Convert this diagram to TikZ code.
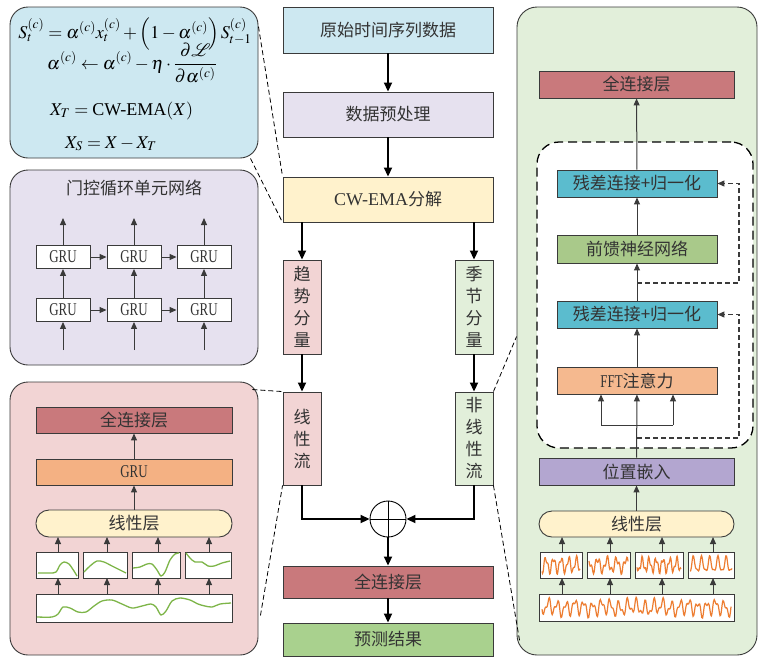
\documentclass[tikz,border=0pt]{standalone}
\usepackage{mathptmx}
\usepackage{fontspec}
\setmainfont{Liberation Serif}
\newfontfamily\cjk{Noto Sans CJK SC}
\newfontfamily\narrow[FakeStretch=0.72]{Liberation Serif}
\usetikzlibrary{arrows.meta,calc}
\definecolor{cBlue}{HTML}{CDE8F1}
\definecolor{cLav}{HTML}{E6E1EF}
\definecolor{cYel}{HTML}{FFF2CC}
\definecolor{cPink}{HTML}{F2D4D4}
\definecolor{cGrnL}{HTML}{E2EFDA}
\definecolor{cRed}{HTML}{C9797C}
\definecolor{cGrn}{HTML}{A9D18E}
\definecolor{cOrg}{HTML}{F4B183}
\definecolor{cTeal}{HTML}{5BBCCE}
\definecolor{cFF}{HTML}{A9C98A}
\definecolor{cPur}{HTML}{B3A6D0}
\definecolor{cLine}{HTML}{3A3A3A}
\definecolor{cWaveG}{HTML}{7DB548}
\definecolor{cWaveO}{HTML}{ED7D31}
\definecolor{cTxt}{HTML}{333333}
\tikzset{
  box/.style={draw=cLine, line width=0.9pt, inner sep=0pt, text=cTxt, font=\cjk\fontsize{17}{20}\selectfont},
  vbox/.style={box, align=center, font=\cjk\fontsize{17}{22}\selectfont},
  rbox/.style={box, rounded corners=13pt},
  gru/.style={box, fill=white, minimum width=54pt, minimum height=23pt, font=\narrow\fontsize{18}{20}\selectfont},
  wbox/.style={draw=cLine, line width=0.9pt, fill=white, inner sep=0pt},
  panel/.style={draw=cLine, line width=0.9pt, rounded corners=18pt, inner sep=0pt},
  bigarrow/.style={line width=1.8pt, draw=black, -{Triangle[length=9pt,width=8pt]}},
  smallarrow/.style={line width=1pt, draw=cLine, -{Triangle[length=7pt,width=6pt]}},
  zoomline/.style={line width=0.8pt, dash pattern=on 5pt off 3pt},
  fbline/.style={line width=1.1pt, draw=cLine, dash pattern=on 5pt off 3pt, -{Triangle[length=7pt,width=6pt]}},
  eq/.style={inner sep=0pt, font=\fontsize{18}{21}\selectfont},
}
\begin{document}
\begin{tikzpicture}[x=1pt,y=-1pt]
\useasboundingbox (0,0) rectangle (759,657);

% ---------- panels ----------
\node[panel, fill=cBlue, minimum width=248pt, minimum height=151pt] (eqp) at (134,82.5) {};
\node[panel, fill=cLav, minimum width=248pt, minimum height=195pt] (grup) at (134,267.5) {};
\node[panel, fill=cPink, minimum width=248pt, minimum height=273pt] (pinkp) at (134,518.5) {};
\node[panel, fill=cGrnL, rounded corners=20pt, minimum width=240pt, minimum height=648pt] (greenp) at (637,331) {};
\node[draw=black, fill=white, line width=1.3pt, dash pattern=on 9pt off 5pt, rounded corners=22pt, minimum width=216pt, minimum height=306pt, inner sep=0pt] (tfb) at (645,295) {};

% ---------- equations ----------
\node[eq, anchor=base] (e1) at (135,38) {$S_t^{(c)} = \alpha^{(c)} x_t^{(c)} + \left(1-\alpha^{(c)}\right) S_{t-1}^{(c)}$};
\node[eq, anchor=base] (e2) at (132,69) {$\displaystyle \alpha^{(c)} \leftarrow \alpha^{(c)} - \eta\cdot\frac{\partial\mathcal{L}}{\partial\alpha^{(c)}}$};
\node[eq, anchor=base west] (e3) at (50,115) {$X_T = \mbox{CW-EMA}(X)$};
\node[eq, anchor=base west] (e4) at (65,148) {$X_S = X - X_T$};

% ---------- GRU panel ----------
\node[text=cTxt, font=\cjk\fontsize{17}{20}\selectfont, inner sep=0pt] (gtitle) at (134,188) {门控循环单元网络};
\foreach \i/\x in {1/63,2/134,3/204}{
  \node[gru] (ga\i) at (\x,257) {GRU};
  \node[gru] (gb\i) at (\x,310) {GRU};
  \coordinate (gin\i) at (\x,350);
  \coordinate (gout\i) at (\x,218);
  \draw[smallarrow] (gin\i) -- (gb\i);
  \draw[smallarrow] (gb\i) -- (ga\i);
  \draw[smallarrow] (ga\i) -- (gout\i);
}
\draw[smallarrow] (ga1) -- (ga2);
\draw[smallarrow] (ga2) -- (ga3);
\draw[smallarrow] (gb1) -- (gb2);
\draw[smallarrow] (gb2) -- (gb3);

% ---------- pink panel (linear stream) ----------
\node[box, fill=cRed, minimum width=196pt, minimum height=26pt] (fcL) at (134,420) {全连接层};
\node[box, fill=cOrg, minimum width=196pt, minimum height=26pt, font=\narrow\fontsize{18}{20}\selectfont] (gruL) at (134,472) {GRU};
\node[rbox, fill=cYel, minimum width=196pt, minimum height=27pt] (linL) at (134,523.5) {线性层};
\node[wbox, minimum width=42pt, minimum height=26pt] (sL1) at (57.5,565) {};
\node[wbox, minimum width=44pt, minimum height=26pt] (sL2) at (105,565) {};
\node[wbox, minimum width=48pt, minimum height=26pt] (sL3) at (156,565) {};
\node[wbox, minimum width=46pt, minimum height=26pt] (sL4) at (208,565) {};
\node[wbox, minimum width=196pt, minimum height=28pt] (wL) at (134,608) {};
\draw[cWaveG, line width=1.3pt] plot[smooth] coordinates {(37,617)(52,617)(58,614)(63,607)(70,608)(78,612)(86,612)(94,606)(102,601)(112,600)(122,604)(132,608)(142,606)(151,604)(156,607)(161,615)(166,611)(172,601)(180,598)(190,600)(198,604)(205,606)(212,607)(220,604)(231,603)};
\draw[cWaveG, line width=1.3pt] plot[smooth] coordinates {(38,573)(50,573)(56,572)(60,565)(64,562)(69,564)(74,571)(77,576)};
\draw[cWaveG, line width=1.3pt] plot[smooth] coordinates {(84,572)(90,566)(97,561)(104,562)(112,566)(120,570)(126,573)};
\draw[cWaveG, line width=1.3pt] plot[smooth] coordinates {(133,568)(140,567)(147,564)(152,564)(157,570)(161,576)(165,572)(170,560)(175,554)(179,553)};
\draw[cWaveG, line width=1.3pt] plot[smooth] coordinates {(186,553)(190,558)(195,562)(202,562)(208,566)(214,566)(222,563)(230,561)};
\foreach \i/\x in {1/58,2/107,3/158,4/209}{
  \coordinate (wLt\i) at (\x,594);
  \coordinate (sLt\i) at (\x,552);
  \draw[smallarrow] (wLt\i) -- (\x,578);
  \draw[smallarrow] (sLt\i) -- (\x,537);
}
\draw[smallarrow] (linL) -- (gruL);
\draw[smallarrow] (gruL) -- (fcL);

% ---------- right panel (nonlinear stream) ----------
\node[box, fill=cRed, minimum width=195pt, minimum height=27pt] (fcR) at (636.5,84.5) {全连接层};
\node[box, fill=cTeal, minimum width=160pt, minimum height=27pt] (res1) at (637,183.5) {残差连接+归一化};
\node[box, fill=cFF, minimum width=160pt, minimum height=28pt] (ff) at (637,249) {前馈神经网络};
\node[box, fill=cTeal, minimum width=160pt, minimum height=27pt] (res2) at (637,314.5) {残差连接+归一化};
\node[box, fill=cOrg!90!white, minimum width=160pt, minimum height=27pt] (fft) at (637,380.5) {{\rmfamily\narrow\fontsize{18}{20}\selectfont FFT}注意力};
\node[box, fill=cPur, minimum width=195pt, minimum height=27pt] (pos) at (636.5,471.5) {位置嵌入};
\node[rbox, fill=cYel, minimum width=195pt, minimum height=26pt] (linR) at (636.5,524) {线性层};
\node[wbox, minimum width=42pt, minimum height=26pt] (sR1) at (561,565) {};
\node[wbox, minimum width=43pt, minimum height=26pt] (sR2) at (608.5,565) {};
\node[wbox, minimum width=48pt, minimum height=26pt] (sR3) at (659,565) {};
\node[wbox, minimum width=46pt, minimum height=26pt] (sR4) at (711,565) {};
\node[wbox, minimum width=195pt, minimum height=27pt] (wR) at (636.5,607.5) {};
\begin{scope}[cWaveO, line width=1.2pt]
  \draw plot[domain=0:189, samples=260, smooth] ({542+\x}, {607.5 + 6*sin(41*\x) + 3.5*sin(79*\x+30) - 1.5*sin(13*\x)});
  \draw plot[domain=0:38, samples=70, smooth] ({542+\x}, {565 + 6.5*sin(47*\x+90) + 3*sin(101*\x)});
  \draw plot[domain=0:39, samples=70, smooth] ({589+\x}, {565 + 6*sin(38*\x-60) + 3.5*sin(91*\x+20)});
  \draw plot[domain=0:44, samples=80, smooth] ({637+\x}, {565 + 6*sin(52*\x) + 3*sin(113*\x+50)});
  \draw plot[domain=0:42, samples=70, smooth] ({690+\x}, {565 + 7*sin(44*\x+120) + 2.5*sin(87*\x)});
\end{scope}
\foreach \i/\x in {1/562,2/610,3/662,4/713}{
  \coordinate (wRt\i) at (\x,594);
  \coordinate (sRt\i) at (\x,552);
  \draw[smallarrow] (wRt\i) -- (\x,578);
  \draw[smallarrow] (sRt\i) -- (\x,537);
}
\draw[smallarrow] (linR) -- (pos);
\draw[smallarrow] (pos) -- (fft);
\coordinate (jl) at (601,425);
\coordinate (jr) at (673,425);
\draw[line width=1pt, cLine] (jl) -- (jr);
\draw[smallarrow] (jl) -- (jl |- fft.south);
\draw[smallarrow] (jr) -- (jr |- fft.south);
\draw[smallarrow] (fft) -- (res2);
\draw[smallarrow] (res2) -- (ff);
\draw[smallarrow] (ff) -- (res1);
\draw[smallarrow] (res1) -- (fcR);
\coordinate (fbA) at (637,283);
\coordinate (fbAc) at (739,183.5);
\coordinate (fbB) at (637,438);
\coordinate (fbBc) at (739,314.5);
\draw[fbline] (fbA) -| (fbAc) -- (res1.east);
\draw[fbline] (fbB) -| (fbBc) -- (res2.east);

% ---------- center column ----------
\node[box, fill=cBlue, minimum width=210pt, minimum height=46pt] (raw) at (388,30) {原始时间序列数据};
\node[box, fill=cLav, minimum width=210pt, minimum height=45pt] (pre) at (388,114.5) {数据预处理};
\node[box, fill=cYel, minimum width=210pt, minimum height=45pt] (cw) at (388,199.5) {{\rmfamily\fontsize{18}{20}\selectfont CW-EMA}分解};
\node[vbox, fill=cPink, minimum width=38pt, minimum height=94pt] (trend) at (302,307) {趋\\势\\分\\量};
\node[vbox, fill=cGrnL, minimum width=38pt, minimum height=94pt] (season) at (474,307) {季\\节\\分\\量};
\node[vbox, fill=cPink, minimum width=38pt, minimum height=93pt] (lin) at (302,438.5) {线\\性\\流};
\node[vbox, fill=cGrnL, minimum width=38pt, minimum height=93pt] (nonlin) at (474,438.5) {非\\线\\性\\流};
\node[draw=black, circle, line width=0.9pt, minimum size=36pt, inner sep=0pt] (sum) at (388,519) {};
\draw[line width=0.9pt] (sum.north) -- (sum.south);
\draw[line width=0.9pt] (sum.west) -- (sum.east);
\node[box, fill=cRed, minimum width=210pt, minimum height=32pt] (fc) at (388,582) {全连接层};
\node[box, fill=cGrn, minimum width=210pt, minimum height=33pt] (res) at (388,639.5) {预测结果};

\draw[bigarrow] (raw) -- (pre);
\draw[bigarrow] (pre) -- (cw);
\draw[bigarrow] (trend.north |- cw.south) -- (trend.north);
\draw[bigarrow] (season.north |- cw.south) -- (season.north);
\draw[bigarrow] (trend) -- (lin);
\draw[bigarrow] (season) -- (nonlin);
\draw[bigarrow] (lin.south) |- (sum.west);
\draw[bigarrow] (nonlin.south) |- (sum.east);
\draw[bigarrow] (sum.south) -- (fc.north);
\draw[bigarrow] (fc) -- (res);

% ---------- zoom (dashed) lines ----------
\draw[zoomline] ($(eqp.north east)+(0,20)$) -- (cw.north west);
\draw[zoomline] ($(eqp.south east)+(-8,0)$) -- (cw.south west);
\draw[zoomline] ($(pinkp.north east)+(-6,8)$) -- (lin.north west);
\draw[zoomline] ($(pinkp.south east)+(2,-40)$) -- (lin.south west);
\draw[zoomline] (nonlin.north east) -- ($(greenp.north west)+(0,330)$);
\draw[zoomline] (nonlin.south east) -- ($(greenp.south west)+(3,-15)$);
\end{tikzpicture}
\end{document}
